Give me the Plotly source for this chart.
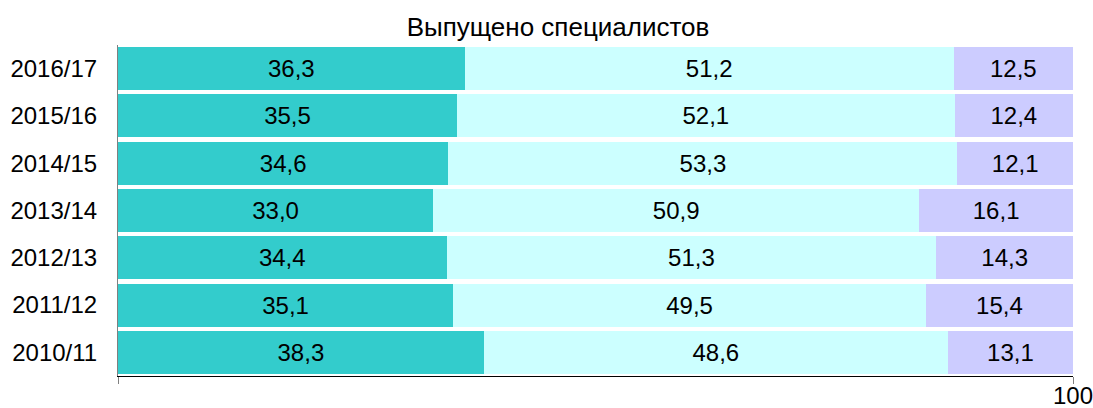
import plotly.graph_objects as go

categories = ["2010/11", "2011/12", "2012/13", "2013/14", "2014/15", "2015/16", "2016/17"]
series_a = [38.3, 35.1, 34.4, 33.0, 34.6, 35.5, 36.3]
series_b = [48.6, 49.5, 51.3, 50.9, 53.3, 52.1, 51.2]
series_c = [13.1, 15.4, 14.3, 16.1, 12.1, 12.4, 12.5]
colors = ["#33CCCC", "#CCFFFF", "#CCCCFF"]
title_text = "Выпущено специалистов"
x_tick_values = [0, 100]
x_tick_labels = ["", "100"]

FONT = "Liberation Sans, Arial, sans-serif"

def fmt(v):
    return f"{v:.1f}".replace(".", ",")

fig = go.Figure()
for vals, col in zip([series_a, series_b, series_c], colors):
    fig.add_trace(go.Bar(
        y=categories, x=vals, orientation="h",
        marker=dict(color=col, line=dict(width=0)),
        text=[fmt(v) for v in vals],
        textposition="inside", insidetextanchor="middle",
        textangle=0, constraintext="none",
        textfont=dict(family=FONT, size=24, color="black"),
        showlegend=False, hoverinfo="skip",
    ))

fig.update_layout(
    barmode="stack", bargap=0.09,
    width=1093, height=408,
    margin=dict(l=118, r=20, t=45, b=32),
    paper_bgcolor="white", plot_bgcolor="white",
    font=dict(family=FONT, size=24, color="black"),
    title=dict(text=title_text, x=558/1093, xanchor="center",
               y=1 - 27/408, yanchor="middle", yref="container",
               automargin=False,
               font=dict(family=FONT, size=26, color="black")),
    xaxis=dict(range=[0, 100], tickvals=x_tick_values, ticktext=x_tick_labels,
               ticks="outside", ticklen=7, tickcolor="#808080", tickwidth=1,
               showline=True, linecolor="black", linewidth=1,
               showgrid=False, zeroline=False, automargin=False,
               ticklabeloverflow="allow", ticklabelstandoff=-9,
               tickfont=dict(family=FONT, size=24, color="black")),
    yaxis=dict(showline=True, linecolor="#808080", linewidth=1,
               showgrid=False, zeroline=False, ticks="", ticklen=0,
               automargin=False, ticklabelstandoff=15,
               tickfont=dict(family=FONT, size=24, color="black")),
)

fig.write_html(
    "out.html",
    config={"displayModeBar": False},
    post_script="document.body.style.margin='0';document.body.style.overflow='hidden';",
)
